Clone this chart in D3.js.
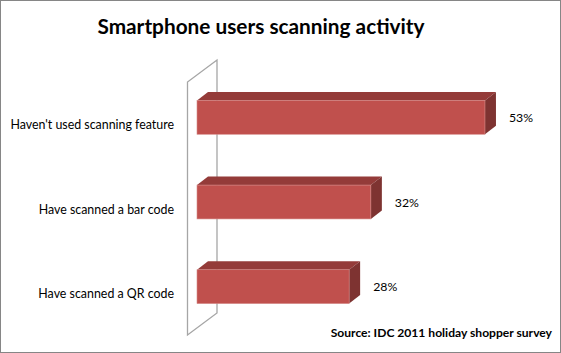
<!DOCTYPE html>
<html>
<head>
<meta charset="utf-8">
<script src="https://cdn.jsdelivr.net/npm/d3@7"></script>
<style>
  body { margin: 0; background: #fff; }
  text { font-family: Lato, "Open Sans", sans-serif; fill: #000; }
</style>
</head>
<body>
<div id="container"></div>
<script>
const categories = ["Haven't used scanning feature", "Have scanned a bar code", "Have scanned a QR code"];
const values = [53, 32, 28];
const valueLabels = ["53%", "32%", "28%"];

const width = 561, height = 353;
const depthX = 11, depthY = -8.5;     // bar 3D offset
const wallDX = 29.5, wallDY = -22;    // wall depth offset
const wallX = 187.5;

const svg = d3.select('#container').append('svg')
  .attr('width', width).attr('height', height);

// outer border
svg.append('rect')
  .attr('x', 0.5).attr('y', 0.5)
  .attr('width', width - 1).attr('height', height - 1)
  .attr('fill', '#fff').attr('stroke', '#868686');

const xScale = d3.scaleLinear().domain([0, 60]).range([197, 523]);
const yScale = d3.scaleBand().domain(categories).range([75, 329])
  .paddingInner(0.6).paddingOuter(0.3);

// wall (parallelogram) behind bars
const wTop = 82, wBot = 335;
svg.append('path')
  .attr('d', `M${wallX},${wBot} L${wallX},${wTop} L${wallX + wallDX},${wTop + wallDY} L${wallX + wallDX},${wBot + wallDY} Z`)
  .attr('fill', 'none').attr('stroke', '#a6a6a6').attr('stroke-width', 1.3);

const bars = svg.selectAll('g.bar')
  .data(values)
  .enter().append('g').attr('class', 'bar');

const x0 = xScale(0);
const bw = yScale.bandwidth();

// top face
bars.append('path')
  .attr('d', (d, i) => {
    const y = yScale(categories[i]), x1 = xScale(d);
    return `M${x0},${y} L${x0 + depthX},${y + depthY} L${x1 + depthX},${y + depthY} L${x1},${y} Z`;
  })
  .attr('fill', '#943b39');

// side face
bars.append('path')
  .attr('d', (d, i) => {
    const y = yScale(categories[i]), x1 = xScale(d);
    return `M${x1},${y} L${x1 + depthX},${y + depthY} L${x1 + depthX},${y + bw + depthY} L${x1},${y + bw} Z`;
  })
  .attr('fill', '#7e3331');

// front face
bars.append('rect')
  .attr('x', x0)
  .attr('y', (d, i) => yScale(categories[i]))
  .attr('width', d => xScale(d) - x0)
  .attr('height', bw)
  .attr('fill', '#c0504d')
  .attr('stroke', '#d58a88').attr('stroke-width', 0.6);

// value labels
svg.selectAll('text.val')
  .data(values)
  .enter().append('text')
  .attr('class', 'val')
  .attr('x', d => xScale(d) + 24)
  .attr('y', (d, i) => yScale(categories[i]) + bw / 2 + 4.5)
  .attr('font-size', 12.3)
  .text((d, i) => valueLabels[i]);

// category labels
svg.selectAll('text.cat')
  .data(categories)
  .enter().append('text')
  .attr('class', 'cat')
  .attr('x', 174)
  .attr('y', d => yScale(d) + bw / 2 + 11.5)
  .attr('text-anchor', 'end')
  .attr('font-size', 12.4)
  .text(d => d);

svg.append('text')
  .attr('x', 261).attr('y', 34)
  .attr('text-anchor', 'middle')
  .attr('font-size', 20.8).attr('font-weight', 'bold')
  .text('Smartphone users scanning activity');

svg.append('text')
  .attr('x', 552).attr('y', 337)
  .attr('text-anchor', 'end')
  .attr('font-size', 12.1).attr('font-weight', 'bold')
  .text('Source: IDC 2011 holiday shopper survey');
</script>
</body>
</html>
